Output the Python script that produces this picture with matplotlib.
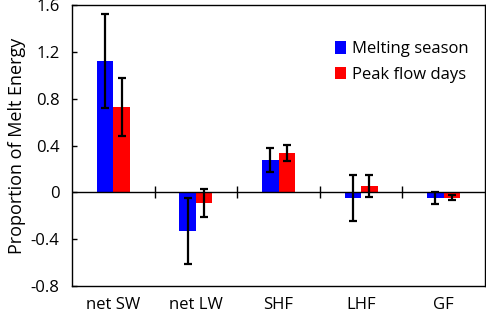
import numpy as np
import matplotlib.pyplot as plt

# values
categories = ["net SW", "net LW", "SHF", "LHF", "GF"]
melt_season = [1.12, -0.33, 0.276, -0.046, -0.046]
melt_err = [0.40, 0.28, 0.105, 0.195, 0.05]
peak_flow = [0.73, -0.09, 0.336, 0.054, -0.045]
peak_err = [0.25, 0.12, 0.07, 0.095, 0.02]
yticks = [-0.8, -0.4, 0, 0.4, 0.8, 1.2, 1.6]

plt.rcParams['font.family'] = ['Open Sans', 'DejaVu Sans']

fig = plt.figure(figsize=(4.86, 3.16), dpi=100)
ax = fig.add_axes([72 / 486, 30 / 316, 413 / 486, 281 / 316])

x = np.arange(len(categories))
w = 0.2
ax.bar(x - w / 2, melt_season, w, color='#0000ff', label='Melting season')
ax.bar(x + w / 2, peak_flow, w, color='#ff0000', label='Peak flow days')
ebkw = dict(fmt='none', ecolor='black', elinewidth=1.6, capsize=3, capthick=1.6)
ax.errorbar(x - w / 2, melt_season, yerr=melt_err, **ebkw)
ax.errorbar(x + w / 2, peak_flow, yerr=peak_err, **ebkw)

# zero line with category separators
ax.axhline(0, color='black', lw=1)
ax.vlines(x[:-1] + 0.5, -0.05, 0.05, color='black', lw=1)

ax.set_xlim(-0.5, len(categories) - 0.5)
ax.set_ylim(-0.8, 1.6)
ax.set_yticks(yticks)
ax.set_yticklabels([f"{v:g}" for v in yticks], fontsize=12)
ax.set_xticks(x)
ax.set_xticklabels(categories, fontsize=12)
ax.tick_params(axis='x', length=0, pad=8)
ax.tick_params(axis='y', direction='in', length=3.5, width=1, pad=9)
for s in ax.spines.values():
    s.set_linewidth(1)
ax.set_ylabel('Proportion of Melt Energy', fontsize=13, labelpad=3)

ax.legend(loc='upper left', bbox_to_anchor=(0.62, 0.895), frameon=False,
          fontsize=12, handlelength=0.7, handleheight=0.8, handletextpad=0.35,
          labelspacing=0.55, borderaxespad=0)

fig.savefig('out.png', dpi=100)
